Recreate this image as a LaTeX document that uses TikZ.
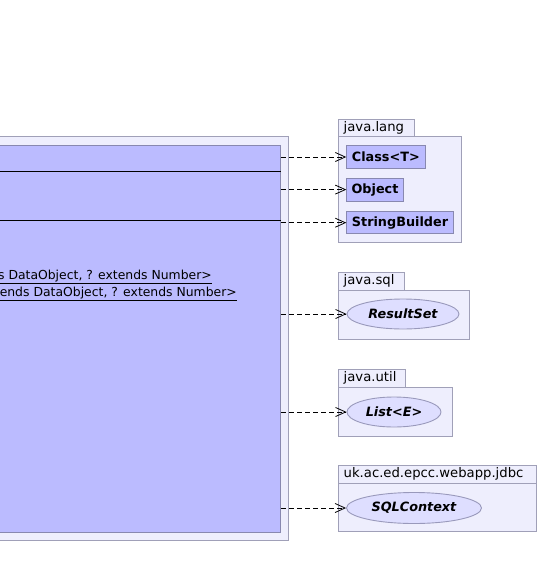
\documentclass[tikz,border=0pt]{standalone}
\usepackage{fontspec}
\setmainfont{DejaVu Sans}
\usetikzlibrary{arrows.meta,shapes.geometric}
\definecolor{pkgfill}{RGB}{238,238,253}
\definecolor{pkgline}{RGB}{160,160,184}
\definecolor{clsfill}{RGB}{187,187,255}
\definecolor{clsline}{RGB}{136,136,176}
\definecolor{ellfill}{RGB}{222,222,255}
\definecolor{ellline}{RGB}{153,153,187}
\tikzset{
  pkgbox/.style={draw=pkgline, fill=pkgfill, line width=0.9pt, rectangle, inner sep=0pt},
  pkgtab/.style={draw=pkgline, fill=pkgfill, line width=0.9pt, rectangle, inner sep=0pt, text depth=0pt},
  tablabel/.style={anchor=west, inner sep=0pt, font=\fontsize{13.2}{15}\selectfont},
  clsbox/.style={draw=clsline, fill=clsfill, line width=0.9pt, rectangle, inner sep=0pt, font=\bfseries\fontsize{12.8}{15}\selectfont},
  iface/.style={draw=ellline, fill=ellfill, line width=0.9pt, ellipse, inner sep=0pt, font=\bfseries\itshape\fontsize{12.8}{15}\selectfont},
  dep/.style={draw=black, line width=0.8pt, dash pattern=on 5pt off 3pt, -{Straight Barb[length=10pt,width=9pt,line width=0.8pt]}},
  ulabel/.style={anchor=east, inner sep=0pt, font=\fontsize{12.4}{15}\selectfont}
}
\begin{document}
\begin{tikzpicture}[x=1pt,y=-1pt]
\useasboundingbox (0,0) rectangle (539,578);
\clip (0,0) rectangle (539,578);
% outer package of main class
\node[pkgbox, minimum width=298.7pt, minimum height=404pt] (outer) at (139.35,338) {};
% main class
\node[draw=clsline, fill=clsfill, line width=0.9pt, rectangle, inner sep=0pt, minimum width=290.7pt, minimum height=387.3pt] (main) at (135.35,338.65) {};
\draw[line width=1pt] (main.west |- 0,171.3) -- (main.east |- 0,171.3);
\draw[line width=1.6pt] (main.west |- 0,220.3) -- (main.east |- 0,220.3);
\node[ulabel] (u1) at (212,277) {\underline{s DataObject, ? extends Number>}};
\node[ulabel] (u2) at (237,294) {\underline{ends DataObject, ? extends Number>}};
% java.lang
\node[pkgtab, minimum width=76pt, minimum height=17.3pt] (langtab) at (376.3,127.65) {};
\node[pkgbox, minimum width=123.4pt, minimum height=105.7pt] (lang) at (400,189.15) {};
\node[tablabel] (langlbl) at (343.5,127.5) {java.lang};
\node[clsbox, minimum width=78.3pt, minimum height=22.6pt] (cls) at (385.85,157) {Class<T>};
\node[clsbox, minimum width=56.6pt, minimum height=22.7pt] (obj) at (375,189.6) {Object};
\node[clsbox, minimum width=106.6pt, minimum height=22pt] (sb) at (400,222.7) {StringBuilder};
% java.sql
\node[pkgtab, minimum width=66pt, minimum height=18.3pt] (sqltab) at (371.3,281.15) {};
\node[pkgbox, minimum width=130.7pt, minimum height=48.7pt] (sql) at (403.65,314.65) {};
\node[tablabel] (sqllbl) at (343.5,281) {java.sql};
\node[iface, minimum width=112pt, minimum height=30pt] (rs) at (403,314) {ResultSet};
% java.util
\node[pkgtab, minimum width=67.4pt, minimum height=18.3pt] (utiltab) at (372,378.15) {};
\node[pkgbox, minimum width=113.7pt, minimum height=48.7pt] (util) at (395.15,411.65) {};
\node[tablabel] (utillbl) at (343.5,378) {java.util};
\node[iface, minimum width=94pt, minimum height=30pt] (list) at (394,412) {List<E>};
% jdbc
\node[pkgtab, minimum width=198.4pt, minimum height=18.3pt] (jdbctab) at (437.5,474.15) {};
\node[pkgbox, minimum width=198.4pt, minimum height=48.4pt] (jdbc) at (437.5,507.5) {};
\node[tablabel] (jdbclbl) at (343.5,474) {uk.ac.ed.epcc.webapp.jdbc};
\node[iface, minimum width=135pt, minimum height=31pt] (ctx) at (414,508) {SQLContext};
% dependencies
\draw[dep] (main.east |- cls.west) -- (cls.west);
\draw[dep] (main.east |- obj.west) -- (obj.west);
\draw[dep] (main.east |- sb.west) -- (sb.west);
\draw[dep] (main.east |- rs.west) -- (rs.west);
\draw[dep] (main.east |- list.west) -- (list.west);
\draw[dep] (main.east |- ctx.west) -- (ctx.west);
\end{tikzpicture}
\end{document}
